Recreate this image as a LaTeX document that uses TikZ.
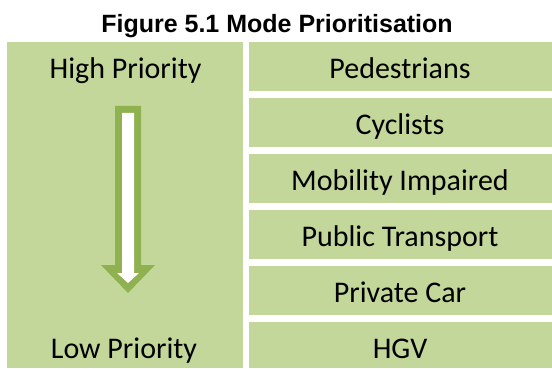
\documentclass[tikz,border=0pt]{standalone}
\usepackage{fontspec}
\setmainfont{Carlito}
\newfontfamily\titlefont{Liberation Sans}
\usepackage{xcolor}
\definecolor{light_olive}{HTML}{C4D79B}
\definecolor{dark_olive}{HTML}{8FB150}

\begin{document}
\begin{tikzpicture}[x=1pt,y=-1pt,
        cell/.style={fill=light_olive},
        modetext/.style={anchor=base, inner sep=0pt, font=\fontsize{30}{30}\selectfont}]
        \useasboundingbox (0,0) rectangle (552,369);
        % Title
        \node[anchor=base, inner sep=0pt, font=\titlefont\bfseries\fontsize{25}{25}\selectfont] (title) at (277,33) {Figure 5.1 Mode Prioritisation};
        % Priority column
        \fill[cell] (7,42) rectangle (243,368);
        \node[modetext] (high) at (125.5,78) {High Priority};
        \node[modetext] (low) at (124,358) {Low Priority};
        % Arrow
        \fill[dark_olive] (115,106) -- (141,106) -- (141,265) -- (155,265) -- (128,293) -- (101,265) -- (115,265) -- cycle;
        \fill[white] (122,113) -- (134,113) -- (134,273) -- (139,273) -- (128,283) -- (117,273) -- (122,273) -- cycle;
        % Modes
        \foreach \mode [count=\i from 0] in {Pedestrians, Cyclists, Mobility Impaired, Public Transport, Private Car, HGV} {
            \fill[cell] (249,42+56*\i) rectangle (552,{min(91+56*\i,368)});
            \node[modetext] (mode\i) at (400,78+56*\i) {\mode};
        }
\end{tikzpicture}
\end{document}
